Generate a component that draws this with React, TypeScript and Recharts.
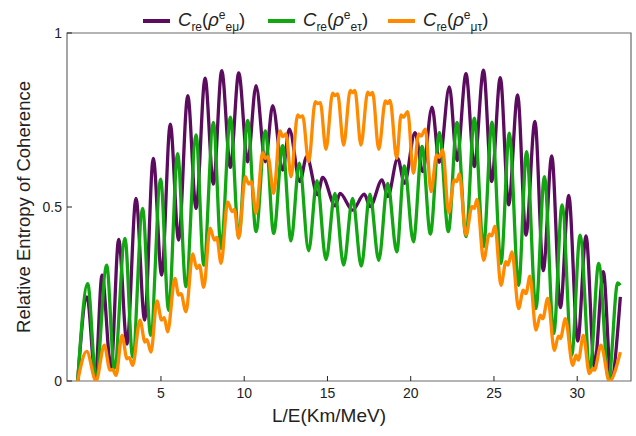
import React from 'react';
import { LineChart, Line, XAxis, YAxis, ReferenceArea } from 'recharts';

// C_re(rho^e_{e mu}) — peaks and troughs
const EMU_X = [0, 0.56, 1.06, 1.46, 2.0, 2.46, 2.96, 3.5, 4.02, 4.54, 5.04, 5.56, 6.06, 6.61, 7.11, 7.65, 8.15, 8.65, 9.17, 9.67, 10.21, 10.71, 11.27, 11.71, 12.31, 12.71, 13.35, 13.75, 14.41, 14.71, 15.47, 15.75, 16.51, 17.21, 17.56, 18.28, 18.62, 19.22, 19.62, 20.26, 20.72, 21.28, 21.72, 22.32, 22.78, 23.32, 23.82, 24.37, 24.86, 25.38, 25.88, 26.42, 26.92, 27.46, 27.96, 28.47, 28.99, 29.49, 30.03, 30.53, 31.03, 31.57, 32.03, 32.59];
const EMU_Y = [0, 0.242, 0.012, 0.304, 0.036, 0.407, 0.106, 0.525, 0.175, 0.64, 0.304, 0.738, 0.405, 0.82, 0.496, 0.87, 0.566, 0.892, 0.614, 0.885, 0.63, 0.849, 0.63, 0.791, 0.606, 0.724, 0.573, 0.645, 0.535, 0.585, 0.503, 0.539, 0.491, 0.537, 0.501, 0.578, 0.53, 0.64, 0.568, 0.714, 0.602, 0.787, 0.628, 0.845, 0.633, 0.883, 0.616, 0.893, 0.573, 0.872, 0.506, 0.822, 0.419, 0.746, 0.317, 0.647, 0.211, 0.533, 0.115, 0.417, 0.04, 0.314, 0.004, 0.242];

// C_re(rho^e_{e tau})
const ETAU_X = [0, 0.6, 1.1, 1.74, 2.2, 2.84, 3.3, 3.9, 4.38, 4.98, 5.46, 6.0, 6.5, 7.11, 7.57, 8.15, 8.61, 9.17, 9.67, 10.21, 10.71, 11.27, 11.77, 12.31, 12.81, 13.31, 13.87, 14.37, 14.91, 15.45, 15.97, 16.51, 17.03, 17.55, 18.08, 18.62, 19.16, 19.62, 20.16, 20.68, 21.18, 21.72, 22.26, 22.78, 23.32, 23.82, 24.37, 24.88, 25.42, 25.92, 26.48, 26.96, 27.52, 28.03, 28.59, 29.09, 29.67, 30.17, 30.77, 31.29, 31.89, 32.43, 32.59];
const ETAU_Y = [0, 0.28, 0.007, 0.333, 0.036, 0.41, 0.069, 0.496, 0.131, 0.58, 0.203, 0.653, 0.271, 0.707, 0.333, 0.743, 0.381, 0.758, 0.415, 0.749, 0.429, 0.719, 0.424, 0.676, 0.403, 0.626, 0.374, 0.576, 0.349, 0.539, 0.333, 0.525, 0.33, 0.537, 0.347, 0.568, 0.371, 0.618, 0.4, 0.674, 0.422, 0.714, 0.429, 0.743, 0.415, 0.755, 0.386, 0.744, 0.338, 0.712, 0.275, 0.659, 0.208, 0.587, 0.136, 0.506, 0.074, 0.419, 0.036, 0.338, 0.004, 0.282, 0.275];

// C_re(rho^e_{mu tau}) — includes the small shoulders
const MUTAU_X = [0, 0.54, 1.1, 1.6, 1.94, 2.1, 2.3, 2.66, 2.96, 3.1, 3.3, 3.74, 4.04, 4.16, 4.4, 4.76, 5.04, 5.2, 5.4, 5.84, 6.06, 6.2, 6.5, 6.91, 7.15, 7.31, 7.57, 7.95, 8.21, 8.35, 8.61, 9.01, 9.27, 9.41, 9.67, 10.07, 10.27, 10.43, 10.71, 11.11, 11.27, 11.43, 11.77, 12.15, 12.31, 12.51, 12.81, 13.21, 13.35, 13.51, 13.87, 14.27, 14.41, 14.57, 14.91, 15.31, 15.47, 15.61, 15.97, 16.37, 16.51, 16.65, 17.01, 17.42, 17.55, 17.71, 18.08, 18.48, 18.62, 18.76, 19.16, 19.42, 19.56, 19.82, 20.16, 20.48, 20.62, 20.88, 21.22, 21.56, 21.72, 21.92, 22.28, 22.62, 22.76, 22.92, 23.32, 23.68, 23.82, 23.98, 24.38, 24.72, 24.86, 25.06, 25.42, 25.72, 25.84, 26.08, 26.48, 26.76, 26.92, 27.16, 27.52, 27.79, 27.93, 28.23, 28.63, 28.87, 28.99, 29.29, 29.73, 29.93, 30.07, 30.37, 30.73, 30.93, 31.03, 31.43, 31.93, 32.59];
const MUTAU_Y = [0, 0.085, 0, 0.103, 0.031, 0.033, 0.016, 0.131, 0.064, 0.067, 0.045, 0.175, 0.112, 0.119, 0.083, 0.23, 0.175, 0.182, 0.141, 0.295, 0.247, 0.251, 0.199, 0.365, 0.323, 0.333, 0.269, 0.439, 0.405, 0.413, 0.338, 0.515, 0.487, 0.493, 0.41, 0.587, 0.566, 0.573, 0.482, 0.656, 0.64, 0.645, 0.539, 0.719, 0.702, 0.71, 0.587, 0.765, 0.758, 0.762, 0.63, 0.803, 0.797, 0.8, 0.666, 0.827, 0.82, 0.825, 0.678, 0.835, 0.829, 0.835, 0.678, 0.83, 0.822, 0.829, 0.666, 0.805, 0.797, 0.806, 0.64, 0.765, 0.758, 0.774, 0.597, 0.71, 0.704, 0.724, 0.544, 0.65, 0.643, 0.664, 0.484, 0.578, 0.573, 0.595, 0.419, 0.501, 0.496, 0.522, 0.347, 0.422, 0.417, 0.445, 0.275, 0.343, 0.333, 0.371, 0.208, 0.261, 0.251, 0.301, 0.146, 0.189, 0.179, 0.237, 0.088, 0.129, 0.122, 0.179, 0.045, 0.074, 0.06, 0.131, 0.021, 0.036, 0.031, 0.103, 0, 0.083];

const X_TICKS = [5, 10, 15, 20, 25, 30];
const Y_TICKS = [0, 0.5, 1];
const X_DOMAIN: [number, number] = [-0.643, 33.23];
const Y_DOMAIN: [number, number] = [0, 1];

const PURPLE = '#5c0c5e';
const GREEN = '#12a712';
const ORANGE = '#ff8a00';
const FONT = '"Liberation Sans", Arial, sans-serif';

const pts = (xs: number[], ys: number[]) => xs.map((x, i) => ({ x, y: ys[i] }));

const XTick = (props: any) => {
  const { x, y, payload } = props;
  return (
    <g>
      <line x1={x} x2={x} y1={y} y2={y - 5} stroke="#222" />
      <text x={x} y={y + 17} textAnchor="middle" fontSize={14} fontFamily={FONT} fill="#222">
        {payload.value}
      </text>
    </g>
  );
};

const YTick = (props: any) => {
  const { x, y, payload } = props;
  return (
    <g>
      <line x1={x} x2={x + 5} y1={y} y2={y} stroke="#222" />
      <text x={x - 5} y={y + 5} textAnchor="end" fontSize={14} fontFamily={FONT} fill="#222">
        {payload.value === 0.5 ? '0.5' : String(payload.value)}
      </text>
    </g>
  );
};

const LegendItem = ({ left, color, sub }: { left: number; color: string; sub: string }) => (
  <div style={{ position: 'absolute', left, top: 2, display: 'flex', alignItems: 'center', whiteSpace: 'nowrap' }}>
    <div style={{ width: 27, height: 3.5, background: color, marginRight: 8 }} />
    <span style={{ fontSize: 18.5, color: '#222', lineHeight: '26px' }}>
      <i>C</i>
      <sub style={{ fontSize: 12 }}>re</sub>(<i>ρ</i>
      <sup style={{ fontSize: 12 }}>e</sup>
      <sub style={{ fontSize: 12 }}>{sub}</sub>)
    </span>
  </div>
);

export default function App() {
  return (
    <div style={{ position: 'absolute', left: 0, top: 0, width: 636, height: 436, background: '#fff', fontFamily: FONT }}>
      <LineChart width={636} height={436} margin={{ top: 33, right: 5, bottom: 0, left: 0 }}>
        <XAxis
          type="number"
          dataKey="x"
          domain={X_DOMAIN}
          ticks={X_TICKS}
          allowDataOverflow
          axisLine={false}
          tickLine={false}
          tickSize={0}
          tickMargin={0}
          height={55}
          tick={<XTick />}
          interval={0}
        />
        <YAxis
          type="number"
          dataKey="y"
          domain={Y_DOMAIN}
          ticks={Y_TICKS}
          allowDataOverflow
          axisLine={false}
          tickLine={false}
          tickSize={0}
          tickMargin={0}
          width={67}
          tick={<YTick />}
          interval={0}
        />
        <ReferenceArea x1={X_DOMAIN[0]} x2={X_DOMAIN[1]} y1={Y_DOMAIN[0]} y2={Y_DOMAIN[1]} fill="none" fillOpacity={0} stroke="#6a6a6a" strokeWidth={1.2} />
        <Line data={pts(EMU_X, EMU_Y)} dataKey="y" type="monotone" stroke={PURPLE} strokeWidth={3.3} dot={false} activeDot={false} isAnimationActive={false} />
        <Line data={pts(ETAU_X, ETAU_Y)} dataKey="y" type="monotone" stroke={GREEN} strokeWidth={3.3} dot={false} activeDot={false} isAnimationActive={false} />
        <Line data={pts(MUTAU_X, MUTAU_Y)} dataKey="y" type="monotone" stroke={ORANGE} strokeWidth={3.3} dot={false} activeDot={false} isAnimationActive={false} />
      </LineChart>

      <LegendItem left={143} color={PURPLE} sub="eμ" />
      <LegendItem left={268} color={GREEN} sub="eτ" />
      <LegendItem left={388} color={ORANGE} sub="μτ" />

      <div style={{ position: 'absolute', left: 329, top: 416, transform: 'translate(-50%, -50%)', fontSize: 19, color: '#222', whiteSpace: 'nowrap' }}>
        L/E(Km/MeV)
      </div>
      <div style={{ position: 'absolute', left: 24, top: 207, transform: 'translate(-50%, -50%) rotate(-90deg)', fontSize: 18.5, color: '#222', whiteSpace: 'nowrap' }}>
        Relative Entropy of Coherence
      </div>
    </div>
  );
}
